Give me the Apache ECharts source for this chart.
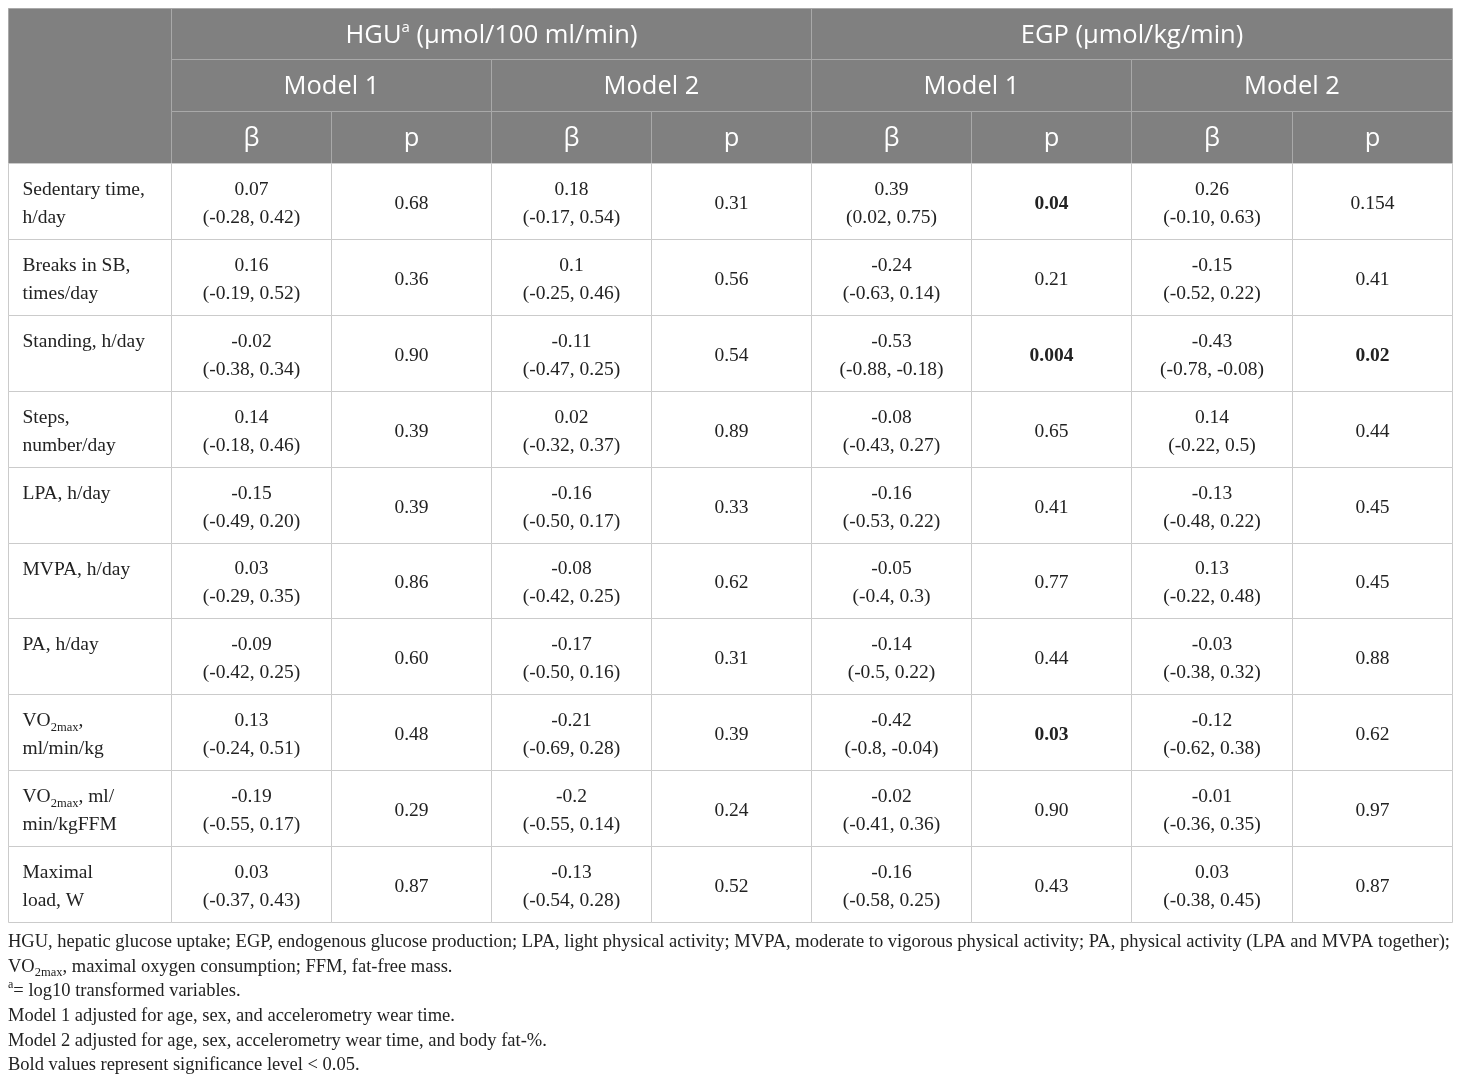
<!DOCTYPE html>
<html>
<head>
<meta charset="utf-8">
<script src="https://cdn.jsdelivr.net/npm/echarts@6/dist/echarts.min.js"></script>
<style>
  html, body { margin: 0; padding: 0; background: #fff; }
  #main { width: 1460px; height: 1083px; }
</style>
</head>
<body>
<div id="main"></div>
<script>
// row labels (first column)
const rowLabels = [
  'Sedentary time,\nh/day', 'Breaks in SB,\ntimes/day', 'Standing, h/day', 'Steps,\nnumber/day',
  'LPA, h/day', 'MVPA, h/day', 'PA, h/day', 'VO2max,\nml/min/kg', 'VO2max, ml/\nmin/kgFFM', 'Maximal\nload, W'
];

// HGU, model 1
const hguM1Beta = ['0.07', '0.16', '-0.02', '0.14', '-0.15', '0.03', '-0.09', '0.13', '-0.19', '0.03'];
const hguM1CI = ['(-0.28, 0.42)', '(-0.19, 0.52)', '(-0.38, 0.34)', '(-0.18, 0.46)', '(-0.49, 0.20)', '(-0.29, 0.35)', '(-0.42, 0.25)', '(-0.24, 0.51)', '(-0.55, 0.17)', '(-0.37, 0.43)'];
const hguM1P = ['0.68', '0.36', '0.90', '0.39', '0.39', '0.86', '0.60', '0.48', '0.29', '0.87'];

// HGU, model 2
const hguM2Beta = ['0.18', '0.1', '-0.11', '0.02', '-0.16', '-0.08', '-0.17', '-0.21', '-0.2', '-0.13'];
const hguM2CI = ['(-0.17, 0.54)', '(-0.25, 0.46)', '(-0.47, 0.25)', '(-0.32, 0.37)', '(-0.50, 0.17)', '(-0.42, 0.25)', '(-0.50, 0.16)', '(-0.69, 0.28)', '(-0.55, 0.14)', '(-0.54, 0.28)'];
const hguM2P = ['0.31', '0.56', '0.54', '0.89', '0.33', '0.62', '0.31', '0.39', '0.24', '0.52'];

// EGP, model 1
const egpM1Beta = ['0.39', '-0.24', '-0.53', '-0.08', '-0.16', '-0.05', '-0.14', '-0.42', '-0.02', '-0.16'];
const egpM1CI = ['(0.02, 0.75)', '(-0.63, 0.14)', '(-0.88, -0.18)', '(-0.43, 0.27)', '(-0.53, 0.22)', '(-0.4, 0.3)', '(-0.5, 0.22)', '(-0.8, -0.04)', '(-0.41, 0.36)', '(-0.58, 0.25)'];
const egpM1P = ['0.04', '0.21', '0.004', '0.65', '0.41', '0.77', '0.44', '0.03', '0.90', '0.43'];

// EGP, model 2
const egpM2Beta = ['0.26', '-0.15', '-0.43', '0.14', '-0.13', '0.13', '-0.03', '-0.12', '-0.01', '0.03'];
const egpM2CI = ['(-0.10, 0.63)', '(-0.52, 0.22)', '(-0.78, -0.08)', '(-0.22, 0.5)', '(-0.48, 0.22)', '(-0.22, 0.48)', '(-0.38, 0.32)', '(-0.62, 0.38)', '(-0.36, 0.35)', '(-0.38, 0.45)'];
const egpM2P = ['0.154', '0.41', '0.02', '0.44', '0.45', '0.45', '0.88', '0.62', '0.97', '0.87'];

// header texts
const groupHeaders = ['HGU{sup|a} (μmol/100 ml/min)', 'EGP (μmol/kg/min)'];
const modelHeaders = ['Model 1', 'Model 2', 'Model 1', 'Model 2'];
const statHeaders = ['β', 'p'];

const footnotes = [
  'HGU, hepatic glucose uptake; EGP, endogenous glucose production; LPA, light physical activity; MVPA, moderate to vigorous physical activity; PA, physical activity (LPA and MVPA together);',
  'VO{sub|2max}, maximal oxygen consumption; FFM, fat-free mass.',
  '{sup|a}= log10 transformed variables.',
  'Model 1 adjusted for age, sex, and accelerometry wear time.',
  'Model 2 adjusted for age, sex, accelerometry wear time, and body fat-%.',
  'Bold values represent significance level < 0.05.'
];

// layout
const colWidths = [163, 160, 160, 160, 160, 160, 160, 161, 160];
const headHeights = [51, 52, 52];
const bodyRowHeight = 75.9;

const xEdges = [0];
colWidths.forEach(w => xEdges.push(xEdges[xEdges.length - 1] + w));
const headEdges = [0];
headHeights.forEach(h => headEdges.push(headEdges[headEdges.length - 1] + h));
const bodyTop = headEdges[3];
const totalH = bodyTop + bodyRowHeight * rowLabels.length;

const SERIF = '"Liberation Serif", "Times New Roman", serif';
const SANS = '"Open Sans", "Noto Sans", sans-serif';

const valueCols = [
  [hguM1Beta, hguM1CI, hguM1P], [hguM2Beta, hguM2CI, hguM2P],
  [egpM1Beta, egpM1CI, egpM1P], [egpM2Beta, egpM2CI, egpM2P]
];

// build cell list
const cells = [];
cells.push({ x0: 0, x1: xEdges[1], y0: 0, y1: bodyTop, kind: 'head', text: '' });
groupHeaders.forEach((t, i) => {
  cells.push({ x0: xEdges[1 + i * 4], x1: xEdges[5 + i * 4], y0: headEdges[0], y1: headEdges[1], kind: 'head', text: t });
});
modelHeaders.forEach((t, i) => {
  cells.push({ x0: xEdges[1 + i * 2], x1: xEdges[3 + i * 2], y0: headEdges[1], y1: headEdges[2], kind: 'head', text: t });
});
for (let c = 1; c < 9; c++) {
  cells.push({ x0: xEdges[c], x1: xEdges[c + 1], y0: headEdges[2], y1: headEdges[3], kind: 'head', text: statHeaders[(c - 1) % 2] });
}
rowLabels.forEach((lab, r) => {
  const y0 = bodyTop + r * bodyRowHeight;
  const y1 = y0 + bodyRowHeight;
  cells.push({ x0: xEdges[0], x1: xEdges[1], y0, y1, kind: 'label', text: lab.replace(/VO2max/g, 'VO{sub|2max}') });
  valueCols.forEach((cols, m) => {
    const [beta, ci, p] = cols;
    cells.push({ x0: xEdges[1 + m * 2], x1: xEdges[2 + m * 2], y0, y1, kind: 'beta', text: beta[r] + '\n' + ci[r] });
    cells.push({ x0: xEdges[2 + m * 2], x1: xEdges[3 + m * 2], y0, y1, kind: 'p', text: p[r], bold: parseFloat(p[r]) < 0.05 });
  });
});

const subRich = {
  sub: { fontSize: 12.5, fontFamily: SERIF, fill: '#222', lineHeight: 18, verticalAlign: 'bottom' }
};

function renderItem(params, api) {
  const c = cells[params.dataIndex];
  const p0 = api.coord([api.value(0), api.value(1)]);
  const p1 = api.coord([api.value(2), api.value(3)]);
  const x0 = Math.round(p0[0]) + 0.5, y0 = Math.round(p0[1]) + 0.5;
  const x1 = Math.round(p1[0]) + 0.5, y1 = Math.round(p1[1]) + 0.5;
  const isHead = c.kind === 'head';
  const children = [{
    type: 'rect',
    shape: { x: x0, y: y0, width: x1 - x0, height: y1 - y0 },
    style: { fill: isHead ? '#808080' : '#ffffff', stroke: isHead ? '#a9a9a9' : '#cbcbcb', lineWidth: 1 }
  }];
  let ts;
  if (isHead) {
    ts = {
      text: c.text, x: (x0 + x1) / 2, y: (y0 + y1) / 2 + 1.5, align: 'center', verticalAlign: 'middle',
      fill: '#ffffff', fontFamily: SANS, fontSize: 25.5, lineHeight: 30,
      rich: { sup: { fontSize: 15, fontFamily: SANS, fill: '#ffffff', lineHeight: 30, verticalAlign: 'top', padding: [0, 0, 10, 0] } }
    };
  } else if (c.kind === 'label') {
    ts = {
      text: c.text, x: x0 + 14, y: y0 + 12, align: 'left', verticalAlign: 'top',
      fill: '#222', fontFamily: SERIF, fontSize: 19.5, lineHeight: 28, rich: subRich
    };
  } else {
    ts = {
      text: c.text, x: (x0 + x1) / 2, y: (y0 + y1) / 2 + 2, align: 'center', verticalAlign: 'middle',
      fill: '#222', fontFamily: SERIF, fontSize: 19.5, lineHeight: 28,
      fontWeight: c.bold ? 'bold' : 'normal'
    };
  }
  children.push({ type: 'text', style: ts });
  return { type: 'group', children };
}

const chart = echarts.init(document.getElementById('main'));
chart.setOption({
  animation: false,
  backgroundColor: '#ffffff',
  grid: { left: 8, top: 8, width: 1444, height: 914 },
  xAxis: { type: 'value', min: 0, max: xEdges[xEdges.length - 1], show: false },
  yAxis: { type: 'value', min: 0, max: totalH, inverse: true, show: false },
  graphic: [{
    type: 'text',
    left: 8,
    top: 930,
    style: {
      text: footnotes.join('\n'),
      fill: '#222',
      fontFamily: SERIF,
      fontSize: 18.5,
      lineHeight: 24.6,
      rich: {
        sub: { fontSize: 12.5, fontFamily: SERIF, fill: '#222', lineHeight: 18, verticalAlign: 'bottom' },
        sup: { fontSize: 12, fontFamily: SERIF, fill: '#222', lineHeight: 24.6, verticalAlign: 'top', padding: [0, 0, 8, 0] }
      }
    }
  }],
  series: [{
    type: 'custom',
    coordinateSystem: 'cartesian2d',
    renderItem,
    encode: { x: [0, 2], y: [1, 3] },
    clip: false,
    data: cells.map(c => [c.x0, c.y0, c.x1, c.y1])
  }]
});
</script>
</body>
</html>
